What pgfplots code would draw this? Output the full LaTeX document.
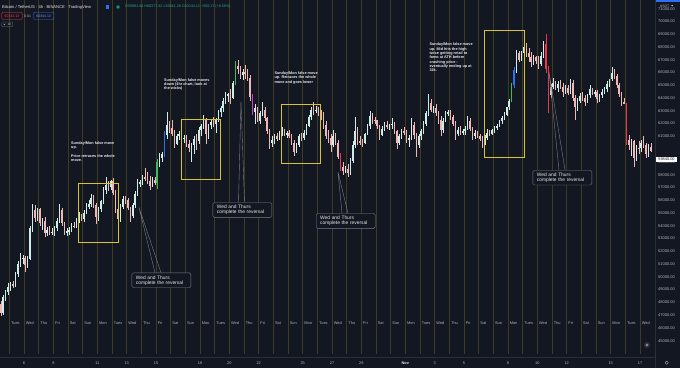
\documentclass[border=0pt]{standalone}
\usepackage{pgfplots}
\pgfplotsset{compat=1.18}
\usepackage{pgfplotstable}
\usepackage{fontspec}
\setmainfont{Liberation Sans}
\definecolor{bg}{HTML}{131722}
\definecolor{dayc}{HTML}{3D3B22}
\definecolor{sunc}{HTML}{6E6426}
\definecolor{upc}{HTML}{CDEDE6}
\definecolor{dnc}{HTML}{F2B6B6}
\definecolor{grc}{HTML}{43B85A}
\definecolor{blc}{HTML}{2F6FF0}
\definecolor{mgc}{HTML}{D63CC9}
\definecolor{rdc}{HTML}{F23645}
\definecolor{ybox}{HTML}{D8C433}
\definecolor{txt}{HTML}{E8E8EA}
\definecolor{axtxt}{HTML}{B2B5BE}
\definecolor{sep}{HTML}{2A2E39}
\definecolor{cbord}{HTML}{7A7D88}
\definecolor{hdrgreen}{HTML}{26A69A}
\pgfplotstableread{
n o h l c k
-10 47900 48100 46900 47200 0
-9 47200 48600 47000 48400 1
-8 48400 49000 48100 48800 1
-7 48800 49500 48600 49200 1
-6 49200 49600 48900 49400 1
-5 49400 49700 49100 49300 0
-4 49300 50400 49200 50200 1
-3 50200 51200 50000 51000 1
-2 51000 51900 50800 51400 1
-1 51400 51700 51000 51500 1
0 51500 51600 50400 50900 0
1 50900 51600 50700 51400 1
2 51400 54000 51300 53800 1
3 53800 55700 53500 55200 1
4 55200 55600 54300 54600 0
5 54600 55400 54400 55300 1
6 55300 55400 54000 54200 0
7 54200 54600 53700 54400 1
8 54400 54700 53100 53400 0
9 53400 53900 53200 53700 1
10 53700 54000 53300 53500 0
11 53500 53800 53300 53450 1
12 53450 54000 53200 53800 1
13 53800 54600 53600 54400 1
14 54400 55700 54200 55200 1
15 55200 55400 54000 54200 0
16 54200 54300 53300 53500 0
17 53500 53800 53200 53550 1
18 53550 53900 53300 53700 1
19 53700 54200 53500 54000 1
20 54000 54300 53800 53900 0
21 53900 54600 53800 54500 1
22 54500 55100 54200 54700 1
23 54700 54900 54400 54500 0
24 54500 55200 54300 55000 1
25 55000 55800 54900 55500 1
26 55500 56000 55300 55700 1
27 55700 56500 55500 56200 1
28 56200 56400 55400 55600 0
29 55600 55800 54100 54700 0
30 54700 55500 54400 55300 1
31 55300 56000 55100 55900 1
32 55900 57000 55700 56800 1
33 56800 57800 56500 57200 1
34 57200 57500 56700 57000 0
35 57000 57600 56800 57500 1
36 57500 57700 56400 56600 0
37 56600 56800 55000 55300 0
38 55300 55600 53900 54500 0
39 54500 55700 54300 55500 1
40 55500 56300 55300 56100 1
41 56100 56300 55700 56000 0
42 56000 56200 55200 55400 0
43 55400 55500 54300 54800 0
44 54800 55800 54600 55600 1
45 55600 56700 55400 56500 1
46 56500 57700 56300 57300 1
47 57300 57600 57000 57400 1
48 57400 58000 57200 57800 1
49 57800 58500 57500 57700 0
50 57700 58200 57300 57500 0
51 57500 57900 56800 57100 0
52 57100 57800 57000 57600 1
53 57600 57800 57200 57350 0
54 57350 59200 56850 59000 2
55 59000 59700 58600 59300 1
56 59300 59800 59000 59600 1
57 59600 61400 59400 61100 3
58 61100 62900 60800 61900 1
59 61900 62200 61300 61670 0
60 61670 62300 61000 61200 0
61 61200 61500 60100 60400 0
62 60400 61200 60300 61000 1
63 61000 61400 60700 61200 1
64 61200 61300 60600 60800 0
65 60800 61100 60500 60880 1
66 60880 61100 60200 60400 0
67 60400 60700 59800 60100 0
68 60100 60500 58960 60300 1
69 60300 61000 59600 60800 1
70 60800 61200 59900 60600 0
71 60600 61700 60400 61530 1
72 61530 62000 61000 61800 1
73 61800 62700 61600 62300 1
74 62300 62400 60400 61200 0
75 61200 62000 60800 61900 1
76 61900 62300 61600 62100 1
77 62100 62500 61700 62000 0
78 62000 62400 61300 62300 1
79 62300 63100 62100 62900 1
80 62900 63400 62500 63200 1
81 63200 64000 62900 63800 1
82 63800 64500 63500 64200 1
83 64200 64400 63700 64300 1
84 64300 64700 63500 64000 0
85 64000 65300 63900 65200 1
86 65200 66900 65000 66500 2
87 66500 67000 65900 66300 0
88 66300 66500 65500 65800 0
89 65800 66300 65400 66000 1
90 66000 66600 65500 65900 0
91 65900 66300 65300 65600 0
92 65600 65800 63800 64100 0
93 64100 64300 62700 62900 4
94 62900 63500 62000 63200 1
95 63200 63300 62100 62200 0
96 62200 63000 62000 62800 1
97 62800 63700 62600 63100 1
98 63100 63300 62200 62400 0
99 62400 62500 61200 61400 0
100 61400 61600 60000 60500 0
101 60500 61000 60200 60700 1
102 60700 61200 60400 61000 1
103 61000 61300 60600 60800 0
104 60800 61400 60700 61200 1
105 61200 61700 61000 61500 1
106 61500 61600 61000 61100 0
107 61100 61400 60900 61300 1
108 61300 61500 60900 61000 0
109 61000 61200 60300 60500 0
110 60500 60700 59500 59800 0
111 59800 60500 59700 60300 1
112 60300 61200 60200 61000 1
113 61000 61300 60600 60860 0
114 60860 61500 60700 61300 1
115 61300 62000 61100 61800 1
116 61800 62700 61700 62500 1
117 62500 63300 62300 63100 1
118 63100 63700 62700 63000 0
119 63000 63400 62800 63080 1
120 63080 63300 62600 62800 0
121 62800 63100 62300 62500 0
122 62500 62900 61600 61900 0
123 61900 62200 60800 61000 0
124 61000 61500 60500 60900 0
125 60900 61200 59800 60330 0
126 60330 61500 60200 61000 1
127 61000 61300 60300 60500 0
128 60500 60700 59200 59400 0
129 59400 59700 58300 58600 5
130 58600 59000 58000 58300 0
131 58300 58700 58100 58450 1
132 58450 58800 57800 58100 0
133 58100 59300 58000 59100 1
134 59100 60600 58900 60300 1
135 60300 62500 60100 61400 1
136 61400 61700 60300 60600 0
137 60600 61000 60300 60590 0
138 60590 60800 60170 60500 0
139 60500 61300 60400 61200 1
140 61200 62000 61100 61800 1
141 61800 62960 61600 62600 1
142 62600 62800 62000 62300 0
143 62300 62500 62000 62270 0
144 62270 62300 61600 61800 0
145 61800 61900 60700 61100 0
146 61100 61800 61000 61600 1
147 61600 62100 61400 61900 1
148 61900 62200 61600 61700 0
149 61700 62000 61500 61880 1
150 61880 62400 61600 62000 1
151 62000 62100 61200 61400 0
152 61400 61500 60000 60500 0
153 60500 61200 60300 61000 1
154 61000 61600 60800 61400 1
155 61400 61700 61100 61300 0
156 61300 61500 60500 60700 0
157 60700 61100 60200 60900 1
158 60900 62400 60700 61900 1
159 61900 62100 60800 61100 0
160 61100 61300 59400 60300 0
161 60300 61200 60100 61000 1
162 61000 61600 60700 61400 1
163 61400 62200 61200 62000 1
164 62000 63000 61800 62800 1
165 62800 64300 62600 63600 1
166 63600 63900 62900 63100 0
167 63100 63400 62800 63200 1
168 63200 63500 62600 62800 0
169 62800 63000 62000 62300 0
170 62300 62600 61000 61500 0
171 61500 62400 61300 62200 1
172 62200 63000 62100 62800 1
173 62800 63100 62600 62900 1
174 62900 63100 62300 62500 0
175 62500 62700 61800 62000 0
176 62000 62200 60700 61200 0
177 61200 61700 61000 61500 1
178 61500 61800 61100 61300 0
179 61300 61600 61100 61400 1
180 61400 61800 61100 61600 1
181 61600 62600 61500 62200 1
182 62200 62400 61400 61600 0
183 61600 61700 60700 61000 0
184 61000 61500 60800 61300 1
185 61300 61400 60900 61000 0
186 61000 61200 60600 60800 0
187 60800 61000 60100 60400 0
188 60400 61100 60300 60900 1
189 60900 61600 60700 61300 1
190 61300 61500 61000 61200 0
191 61200 61600 61100 61500 1
192 61500 61800 61300 61700 1
193 61700 62000 61500 61800 1
194 61800 62300 61700 62200 1
195 62200 62600 62000 62400 1
196 62400 62900 62300 62700 1
197 62700 63300 62600 63300 1
198 63300 63900 63100 63800 1
199 63800 65200 63700 65000 2
200 65000 66400 64800 66200 3
201 66200 67800 66000 67500 1
202 67500 67700 66800 67000 0
203 67000 67700 66900 67500 1
204 67500 68500 67300 68000 1
205 68000 68300 67200 67500 0
206 67500 67900 66800 67200 0
207 67200 67600 66400 66800 0
208 66800 67400 66600 67200 1
209 67200 67300 66700 66900 0
210 66900 67300 66300 66700 0
211 66700 67600 66500 67300 1
212 67300 68500 67100 68200 1
213 68200 69000 66000 66300 5
214 66300 66500 62800 64200 5
215 64200 65100 64000 64900 1
216 64900 65600 64700 65200 1
217 65200 65300 64600 64800 0
218 64800 65300 64500 65100 1
219 65100 65400 64700 64900 0
220 64900 65200 64100 64500 0
221 64500 65000 64300 64800 1
222 64800 65000 64200 64400 0
223 64400 65500 64300 65200 1
224 65200 65400 63800 64000 0
225 64000 64200 62300 63300 0
226 63300 64000 63000 63800 1
227 63800 64400 63600 64160 1
228 64160 64500 63800 64000 0
229 64000 64200 63400 63700 0
230 63700 64300 63600 64200 1
231 64200 65000 64000 64700 1
232 64700 64800 64200 64400 0
233 64400 64600 64100 64450 1
234 64450 64600 63600 63900 0
235 63900 64300 63700 64200 1
236 64200 64700 64000 64500 1
237 64500 64900 64300 64700 1
238 64700 65300 64500 65100 1
239 65100 65500 64900 65500 1
240 65500 66400 65300 66000 1
241 66000 66300 65500 65700 0
242 65700 65900 64800 65000 0
243 65000 65200 64100 64300 0
244 64300 64500 63400 63700 0
245 63700 64000 63500 63600 0
246 63600 63600 60300 60700 5
247 60700 61100 59900 60300 0
248 60300 60800 59500 60600 1
249 60600 60700 58600 59300 0
250 59300 60300 59100 60100 1
251 60100 60600 59600 60050 0
252 60050 60700 59800 60500 1
253 60500 61000 60100 60300 0
254 60300 60500 59300 59600 0
255 59600 60400 59400 60200 1
256 60200 60500 59800 59840 0
}\candles
\pgfplotsset{
  cw/.style 2 args={draw=none, mark=none, forget plot,
    restrict expr to domain={\thisrow{k}}{#1:#1},
    error bars/.cd, y dir=both, y explicit, error mark=none,
    error bar style={line width=0.45bp, color=#2}},
  cb/.style 2 args={draw=none, mark=none, forget plot,
    restrict expr to domain={\thisrow{k}}{#1:#1},
    error bars/.cd, y dir=both, y explicit, error mark=none,
    error bar style={line width=1.6bp, color=#2}},
}
\newcommand{\candleset}[2]{%
  \addplot[cw={#1}{#2}] table[x expr=(\thisrow{n}+0.5)/6, y expr=(\thisrow{h}+\thisrow{l})/2, y error expr=(\thisrow{h}-\thisrow{l})/2] {\candles};
  \addplot[cb={#1}{#2}] table[x expr=(\thisrow{n}+0.5)/6, y expr=(\thisrow{o}+\thisrow{c})/2, y error expr=abs(\thisrow{c}-\thisrow{o})/2] {\candles};
}
\begin{document}
\begin{tikzpicture}[x=1bp,y=1bp]
\fill[bg] (0,0) rectangle (680,368);
\begin{axis}[
  at={(0,11)}, anchor=south west,
  width=655bp, height=357bp, scale only axis,
  xmin=-1.63636, xmax=43.0227, ymin=43960, ymax=71916,
  axis line style={draw=none},
  xtick={-1,0,...,42}, xticklabels={}, xtick style={draw=none},
  xmajorgrids, major grid style={color=dayc, line width=0.7bp},
  extra x ticks={4,11,18,25,32,39}, extra x tick labels={},
  extra x tick style={grid style={color=sunc, line width=0.8bp}},
  scaled y ticks=false,
  ytick={45000,46000,47000,48000,49000,50000,51000,52000,53000,54000,55000,56000,57000,58000,59000,61000,62000,63000,64000,65000,66000,67000,68000,69000,70000,71000},
  yticklabels={45000.00,46000.00,47000.00,48000.00,49000.00,50000.00,51000.00,52000.00,53000.00,54000.00,55000.00,56000.00,57000.00,58000.00,59000.00,61000.00,62000.00,63000.00,64000.00,65000.00,66000.00,67000.00,68000.00,69000.00,70000.00,71000.00},
  yticklabel pos=right, ytick style={draw=none},
  yticklabel style={anchor=west, inner sep=0pt, xshift=3bp, font=\fontsize{4}{4.8}\selectfont, text=axtxt},
]
\candleset{1}{upc}
\candleset{0}{dnc}
\candleset{2}{grc}
\candleset{3}{blc}
\candleset{4}{mgc}
\candleset{5}{rdc}
\end{axis}
% separators
\draw[sep, line width=0.6bp] (0,10.5) -- (655,10.5);
\draw[sep, line width=0.6bp] (655.3,0) -- (655.3,368);
\fill[blc] (655.6,365.7) rectangle (680,368);
% weekday labels
\foreach \t/\d in {-1/Tues,0/Wed,1/Thu,2/Fri,3/Sat,4/Sun,5/Mon,6/Tues,7/Wed,8/Thu,9/Fri,10/Sat,11/Sun,12/Mon,13/Tues,14/Wed,15/Thu,16/Fri,17/Sat,18/Sun,19/Mon,20/Tues,21/Wed,22/Thu,23/Fri,24/Sat,25/Sun,26/Mon,27/Tues,28/Wed,29/Thu,30/Fri,31/Sat,32/Sun,33/Mon,34/Tues,35/Wed,36/Thu,37/Fri,38/Sat,39/Sun,40/Mon,41/Tues,42/Wed}
  {\node[anchor=west, inner sep=0pt, font=\fontsize{3.9}{4.5}\selectfont, text=axtxt] at ({24+14.6667*\t+1.6}, 45) {\d};}
% dates
\foreach \t/\d in {0/6,2/8,5/11,7/13,9/15,12/18,14/20,16/22,19/25,21/27,23/29,28/3,30/5,33/8,35/10,37/12,40/15,42/17}
  {\node[inner sep=0pt, font=\fontsize{3.9}{4.5}\selectfont, text=axtxt] at ({24+14.6667*\t}, 5) {\d};}
\node[inner sep=0pt, font=\fontsize{3.9}{4.5}\selectfont\bfseries, text=txt] at ({24+14.6667*26}, 5) {Nov};
% header
\node[anchor=west, inner sep=0pt, font=\fontsize{4.1}{5}\selectfont, text=txt] at (2,361) {Bitcoin / TetherUS · 4h · BINANCE · TradingView};
\fill[blc] (105.5,359.2) rectangle (109.3,363);
\fill[hdrgreen!40!bg] (118,361) circle (2);
\fill[hdrgreen] (118,361) circle (1.1);
\node[anchor=west, inner sep=0pt, font=\fontsize{3.7}{4.5}\selectfont, text=hdrgreen] at (125,361) {O59993.94 H60377.92 L59941.28 C60344.12 +350.17 (+0.58\%)};
\node[draw=rdc, rounded corners=1bp, line width=0.4bp, inner xsep=1.5bp, inner ysep=1.2bp, font=\fontsize{3.5}{4}\selectfont, text=rdc, minimum width=20.5bp, minimum height=7bp] at (12,352.2) {60344.12};
\node[inner sep=0pt, font=\fontsize{3.5}{4}\selectfont, text=axtxt] at (27.6,352.2) {0.01};
\node[draw=blc, rounded corners=1bp, line width=0.4bp, inner xsep=1.5bp, inner ysep=1.2bp, font=\fontsize{3.5}{4}\selectfont, text=blc!70!white, minimum width=20.5bp, minimum height=7bp] at (43.7,352.2) {60344.13};
\draw[sep!70!white, line width=0.3bp, rounded corners=0.8bp] (1.7,341.3) rectangle (12.7,346);
\draw[axtxt, line width=0.3bp] (3.4,344.2) -- (4.4,343.2) -- (5.4,344.2);
\node[inner sep=0pt, font=\fontsize{3.2}{4}\selectfont, text=axtxt] at (9.3,343.7) {10};
% right axis header / price label
\node[inner sep=0pt, font=\fontsize{3.5}{4}\selectfont, text=axtxt] at (664.5,362) {USDT};
\fill[axtxt] (671.2,362.8) -- (673.2,362.8) -- (672.2,361.6) -- cycle;
\node[fill=white, text=bg, inner xsep=1.5bp, inner ysep=1bp, font=\fontsize{3.9}{4.5}\selectfont, minimum width=21bp] at (666.5,208.8) {59840.00};
\fill[sep] (647,23) circle (3.2);
\draw[axtxt, line width=0.35bp] (647,23) circle (1.2);
\draw[axtxt, line width=0.35bp] (666.7,5.3) circle (1.7);
% yellow boxes
\begin{scope}[ybox, line width=0.9bp]
\draw (78,368-183) rectangle (118,368-242);
\draw (181,368-119.3) rectangle (220.3,368-179);
\draw (281,368-104.3) rectangle (320.5,368-163);
\draw (484.3,368-30.7) rectangle (524,368-157);
\end{scope}
% annotation texts
\begin{scope}[every node/.style={anchor=north west, inner sep=0pt, align=left, text=txt, font=\fontsize{3.8}{4.35}\selectfont\bfseries}]
\node at (71,368-141.5) {Sunday/Mon false move\\up.\\[4.3bp]Price retraces the whole\\move.};
\node at (164,368-78.2) {Sunday/Mon false moves\\down (4hr chart, look at\\the wicks)};
\node at (274.3,368-71.5) {Sunday/Mon false move\\up. Retraces the whole\\move and goes lower};
\node at (429.3,368-42.9) {Sunday/Mon false move\\up. Mid hits the high\\twice getting retail to\\fomo at ATH before\\crashing price -\\eventually ending up at\\32k.};
\end{scope}
% callouts
\begin{scope}[cbord, line width=0.4bp]
\draw (155,368-272.7) -- (139,368-207.5) -- (161,368-272.7);
\draw (238.5,368-202.3) -- (241,368-101) -- (244.5,368-202.3);
\draw (342,368-213.3) -- (338,368-172) -- (348,368-213.3);
\draw (559,368-170) -- (549,368-72) -- (565,368-170);
\end{scope}
\begin{scope}[every node/.style={anchor=north west, draw=cbord, fill=bg, line width=0.4bp, rounded corners=1.5bp, inner xsep=4bp, inner ysep=0pt, align=left, text=txt, font=\fontsize{4.9}{5.1}\selectfont, text width=51bp, minimum height=14.8bp}]
\node at (131.7,368-272.7) {Wed and Thurs\\complete the reversal};
\node at (212.7,368-202.3) {Wed and Thurs\\complete the reversal};
\node at (316,368-213.3) {Wed and Thurs\\complete the reversal};
\node at (532.7,368-170) {Wed and Thurs\\complete the reversal};
\end{scope}
\pgfresetboundingbox
\path[use as bounding box] (0,0) rectangle (680,368);
\end{tikzpicture}
\end{document}
